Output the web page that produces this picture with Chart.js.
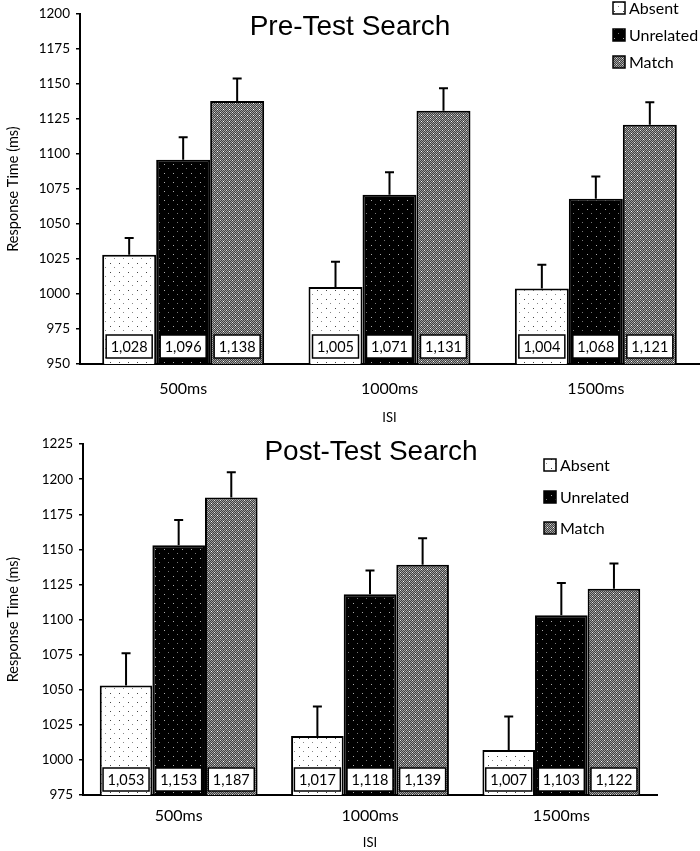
<!DOCTYPE html>
<html>
<head>
<meta charset="utf-8">
<script src="https://cdn.jsdelivr.net/npm/chart.js@4.4.1/dist/chart.umd.min.js"></script>
<style>
    html, body { margin: 0; padding: 0; background: #fff; }
    .panel { position: relative; width: 700px; }
    #top-panel { height: 430px; }
    #bottom-panel { height: 421px; }
</style>
</head>
<body>
<div class="panel" id="top-panel"><canvas id="pre-chart"></canvas></div>
<div class="panel" id="bottom-panel"><canvas id="post-chart"></canvas></div>
<script>
// --- DATA ---
const isiLabels = ['500ms', '1000ms', '1500ms'];
const conditionNames = ['Absent', 'Unrelated', 'Match'];

const preAbsent = [1028, 1005, 1004];
const preUnrelated = [1096, 1071, 1068];
const preMatch = [1138, 1131, 1121];
const preAbsentErr = [12, 18, 17];
const preUnrelatedErr = [16, 16, 16];
const preMatchErr = [16, 16, 16];

const postAbsent = [1053, 1017, 1007];
const postUnrelated = [1153, 1118, 1103];
const postMatch = [1187, 1139, 1122];
const postAbsentErr = [23, 21, 24];
const postUnrelatedErr = [18, 17, 23];
const postMatchErr = [18, 19, 18];

const preAxis = { min: 950, max: 1200, step: 25 };
const postAxis = { min: 975, max: 1225, step: 25 };

// --- FILL PATTERNS ---
function makePattern(kind) {
    const c = document.createElement('canvas');
    const g = c.getContext('2d');
    if (kind === 'absent') {
        c.width = 9; c.height = 9;
        g.fillStyle = '#fff';
        g.fillRect(0, 0, 9, 9);
        g.fillStyle = '#444';
        g.fillRect(2, 2, 1, 1);
        g.fillStyle = '#888';
        g.fillRect(6, 6, 1, 1);
    } else if (kind === 'unrelated') {
        c.width = 9; c.height = 9;
        g.fillStyle = '#000';
        g.fillRect(0, 0, 9, 9);
        g.fillStyle = '#aaa';
        g.fillRect(2, 2, 1, 1);
        g.fillStyle = '#777';
        g.fillRect(6, 6, 1, 1);
    } else {
        c.width = 6; c.height = 6;
        for (let y = 0; y < 6; y++) {
            for (let x = 0; x < 6; x++) {
                g.fillStyle = (x + y) % 2 ? '#404040' : '#a0a0a0';
                g.fillRect(x, y, 1, 1);
            }
        }
        g.fillStyle = '#fff';
        g.fillRect(1, 1, 1, 1);
        g.fillStyle = '#e0e0e0';
        g.fillRect(4, 4, 1, 1);
    }
    return g.createPattern(c, 'repeat');
}
const fills = [makePattern('absent'), makePattern('unrelated'), makePattern('match')];

// --- DECORATIONS: error bars, value boxes, title, legend ---
const decorPlugin = {
    id: 'decor',
    afterDatasetsDraw(chart, args, opts) {
        const { ctx } = chart;
        const yScale = chart.scales.y;
        ctx.save();
        chart.data.datasets.forEach((ds, di) => {
            const meta = chart.getDatasetMeta(di);
            meta.data.forEach((bar, i) => {
                // error bar (upper whisker only)
                const capY = yScale.getPixelForValue(ds.data[i] + ds.errors[i]);
                ctx.strokeStyle = '#000';
                ctx.lineWidth = 2;
                ctx.beginPath();
                ctx.moveTo(bar.x, bar.y);
                ctx.lineTo(bar.x, capY);
                ctx.moveTo(bar.x - 4.5, capY);
                ctx.lineTo(bar.x + 4.5, capY);
                ctx.stroke();

                // value box at base of bar
                const bw = 46, bh = 23;
                const by = yScale.bottom - opts.boxGap - bh;
                ctx.fillStyle = '#fff';
                ctx.fillRect(bar.x - bw / 2, by, bw, bh);
                ctx.lineWidth = 1.5;
                ctx.strokeRect(bar.x - bw / 2, by, bw, bh);
                ctx.fillStyle = '#000';
                ctx.font = '14.5px Lato';
                ctx.textAlign = 'center';
                ctx.textBaseline = 'middle';
                ctx.fillText(ds.data[i].toLocaleString('en-US'), bar.x, by + bh / 2 + 1);
            });
        });
        ctx.restore();
    },
    afterDraw(chart, args, opts) {
        const { ctx } = chart;
        ctx.save();
        ctx.fillStyle = '#000';
        ctx.font = '28px "Liberation Sans"';
        ctx.textAlign = 'center';
        ctx.textBaseline = 'middle';
        ctx.fillText(opts.title, opts.titleX, opts.titleY);

        ctx.font = '16px Lato';
        ctx.textAlign = 'left';
        chart.data.datasets.forEach((ds, i) => {
            const y = opts.legendY[i];
            ctx.fillStyle = ds.backgroundColor;
            ctx.fillRect(opts.legendX, y - 6, 12, 12);
            ctx.strokeStyle = '#000';
            ctx.lineWidth = 1.5;
            ctx.strokeRect(opts.legendX, y - 6, 12, 12);
            ctx.fillStyle = '#000';
            ctx.fillText(ds.label, opts.legendX + 16, y + 1);
        });
        ctx.restore();
    }
};

function buildDatasets(values, errors, catPct) {
    return conditionNames.map((name, i) => ({
        label: name,
        data: values[i],
        errors: errors[i],
        backgroundColor: fills[i],
        borderColor: '#000',
        borderWidth: 2,
        barPercentage: 1,
        categoryPercentage: catPct
    }));
}

function makeChart(canvasId, cfg) {
    return new Chart(document.getElementById(canvasId), {
        type: 'bar',
        data: {
            labels: isiLabels,
            datasets: buildDatasets(cfg.values, cfg.errors, cfg.catPct)
        },
        options: {
            responsive: true,
            maintainAspectRatio: false,
            animation: false,
            layout: { padding: cfg.padding },
            scales: {
                x: {
                    grid: { display: false, drawTicks: false },
                    border: { display: true, color: '#000', width: 2 },
                    ticks: { color: '#000', font: { family: 'Lato', size: 16 }, padding: cfg.xTickPad },
                    title: {
                        display: true, text: 'ISI', color: '#000',
                        font: { family: 'Lato', size: 13 }, padding: { top: 0, bottom: cfg.isiPad }
                    },
                    afterFit: s => { s.height = cfg.xHeight; }
                },
                y: {
                    min: cfg.axis.min,
                    max: cfg.axis.max,
                    ticks: {
                        stepSize: cfg.axis.step, color: '#000',
                        font: { family: 'Lato', size: 13.5 }, padding: 6,
                        callback: v => String(v)
                    },
                    grid: { display: true, drawOnChartArea: false, drawTicks: true, tickLength: 4, color: '#000', lineWidth: 1.5 },
                    border: { display: true, color: '#000', width: 2 },
                    title: {
                        display: true, text: 'Response Time (ms)', color: '#000',
                        font: { family: 'Lato', size: 14.5 }, padding: { top: 5, bottom: 0 }
                    },
                    afterFit: s => { s.width = cfg.yWidth; }
                }
            },
            plugins: {
                legend: { display: false },
                tooltip: { enabled: false },
                decor: cfg.decor
            }
        },
        plugins: [decorPlugin]
    });
}

// --- INITIALIZATION ---
makeChart('pre-chart', {
    values: [preAbsent, preUnrelated, preMatch],
    errors: [preAbsentErr, preUnrelatedErr, preMatchErr],
    catPct: 0.785,
    axis: preAxis,
    padding: { left: 0, top: 7, right: 1, bottom: 0 },
    xHeight: 66,
    yWidth: 80,
    xTickPad: 15,
    isiPad: 4,
    decor: { title: 'Pre-Test Search', titleX: 350, titleY: 27, legendX: 613, legendY: [8, 35, 62], boxGap: 6 }
});

makeChart('post-chart', {
    values: [postAbsent, postUnrelated, postMatch],
    errors: [postAbsentErr, postUnrelatedErr, postMatchErr],
    catPct: 0.825,
    axis: postAxis,
    padding: { left: 0, top: 14, right: 43, bottom: 0 },
    xHeight: 56,
    yWidth: 83,
    xTickPad: 11,
    isiPad: 0,
    decor: { title: 'Post-Test Search', titleX: 371, titleY: 22, legendX: 544, legendY: [35, 67, 98], boxGap: 4 }
});
</script>
</body>
</html>
